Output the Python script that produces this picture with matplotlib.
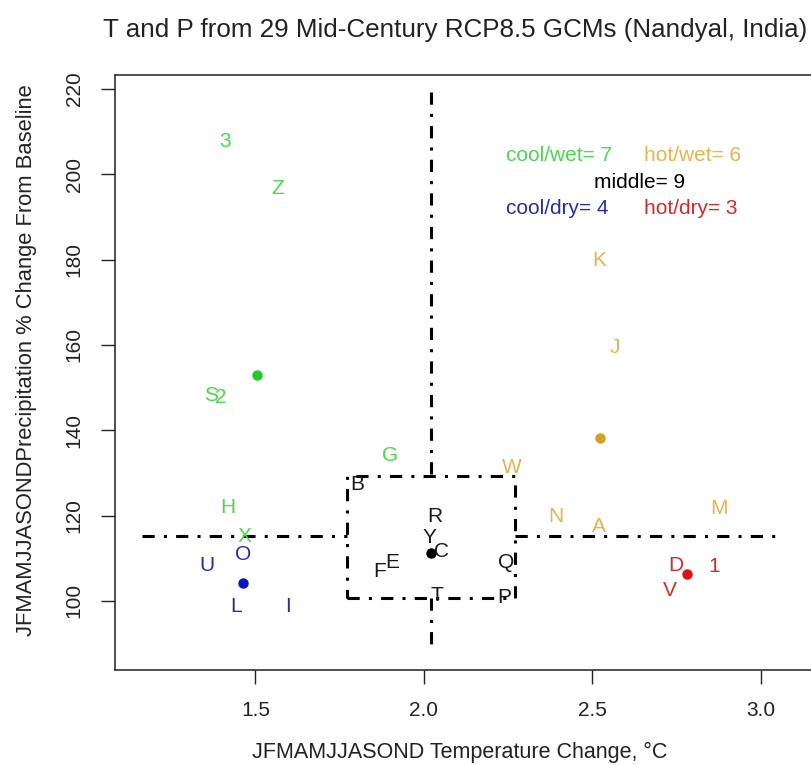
import numpy as np
import matplotlib
matplotlib.use("Agg")
import matplotlib.pyplot as plt

plt.rcParams['font.family'] = ['Liberation Sans', 'DejaVu Sans']

# model labels, temperature change (C) and precipitation change (%)
cool_wet_lab = ['3', 'Z', 'S', '2', 'G', 'H', 'X']
cool_wet_t = [1.409, 1.566, 1.368, 1.397, 1.898, 1.418, 1.468]
cool_wet_p = [207.6, 196.8, 148.1, 147.6, 134.2, 122.0, 115.0]

cool_dry_lab = ['U', 'O', 'L', 'I']
cool_dry_t = [1.356, 1.462, 1.442, 1.596]
cool_dry_p = [108.4, 110.8, 98.8, 98.6]

middle_lab = ['B', 'R', 'Y', 'C', 'E', 'F', 'Q', 'T', 'P']
middle_t = [1.803, 2.031, 2.016, 2.052, 1.907, 1.868, 2.245, 2.037, 2.239]
middle_p = [127.4, 119.9, 114.8, 111.5, 109.1, 107.0, 109.1, 101.2, 100.9]

hot_wet_lab = ['K', 'J', 'W', 'N', 'A', 'M']
hot_wet_t = [2.520, 2.567, 2.262, 2.393, 2.520, 2.876]
hot_wet_p = [179.7, 159.3, 131.2, 119.9, 117.4, 121.6]

hot_dry_lab = ['D', '1', 'V']
hot_dry_t = [2.748, 2.860, 2.730]
hot_dry_p = [108.4, 108.0, 102.4]

# quadrant split and middle box
t_split = 2.022
p_split = 115.2
box_t = [1.773, 2.271]
box_p = [100.7, 129.3]

fig = plt.figure(figsize=(8.12, 7.65), dpi=100)
ax = fig.add_axes([115/812, 1-670/765, 1.02 - 115/812, (670-75)/765])

ls = (0, (4, 3, 1, 3))
lw = 2.2
ax.plot([t_split, t_split], [219.3, box_p[1]], color='black', lw=lw, ls=ls)
ax.plot([t_split, t_split], [box_p[0], 89.0], color='black', lw=lw, ls=ls)
ax.plot([1.163, box_t[0]], [p_split, p_split], color='black', lw=lw, ls=ls)
ax.plot([box_t[1], 3.063], [p_split, p_split], color='black', lw=lw, ls=ls)
ax.plot([box_t[0], box_t[1], box_t[1], box_t[0], box_t[0]],
        [box_p[0], box_p[0], box_p[1], box_p[1], box_p[0]],
        color='black', lw=lw, ls=ls)

fs = 15
groups = [
    (cool_wet_lab, cool_wet_t, cool_wet_p, '#4cd84c', '#22cc22'),
    (cool_dry_lab, cool_dry_t, cool_dry_p, '#2a2aa8', '#0a14c8'),
    (middle_lab, middle_t, middle_p, '#1a1a1a', '#000000'),
    (hot_wet_lab, hot_wet_t, hot_wet_p, '#e6b450', '#d4a020'),
    (hot_dry_lab, hot_dry_t, hot_dry_p, '#d42a2a', '#dd1111'),
]
for lab, t, p, tc, dc in groups:
    for s, x, y in zip(lab, t, p):
        ax.text(x, y, s, color=tc, fontsize=fs, ha='center', va='center')
    ax.plot(np.mean(t), np.mean(p), 'o', color=dc, ms=6.5)

# group counts
ax.text(2.245, 204.5, 'cool/wet= %d' % len(cool_wet_lab), color='#4cd84c', fontsize=fs, ha='left', va='center')
ax.text(2.653, 204.5, 'hot/wet= %d' % len(hot_wet_lab), color='#e6b450', fontsize=fs, ha='left', va='center')
ax.text(2.639, 198.2, 'middle= %d' % len(middle_lab), color='black', fontsize=fs, ha='center', va='center')
ax.text(2.245, 192.1, 'cool/dry= %d' % len(cool_dry_lab), color='#2a2aa8', fontsize=fs, ha='left', va='center')
ax.text(2.653, 192.1, 'hot/dry= %d' % len(hot_dry_lab), color='#d42a2a', fontsize=fs, ha='left', va='center')

ax.set_xlim(1.083, 3.2)
ax.set_ylim(83.8, 223.3)
ax.set_xticks([1.5, 2.0, 2.5, 3.0])
ax.set_xticklabels(['1.5', '2.0', '2.5', '3.0'])
ax.set_yticks([100, 120, 140, 160, 180, 200, 220])
ax.set_yticklabels(['100', '120', '140', '160', '180', '200', '220'], rotation=90, va='center')
ax.tick_params(length=10, width=1, labelsize=fs, colors='#222222', pad=12.5)
for sp in ax.spines.values():
    sp.set_linewidth(1.1)
    sp.set_color('#222222')

fig.text(455/812, 1-30/765, 'T and P from 29 Mid-Century RCP8.5 GCMs (Nandyal, India)',
         ha='center', va='center', fontsize=18.7, color='#222222')
fig.text(460/812, 1-752/765, 'JFMAMJJASOND Temperature Change, \u00b0C',
         ha='center', va='center', fontsize=15.5, color='#222222')
fig.text(27/812, 1-360/765, 'JFMAMJJASONDPrecipitation % Change From Baseline',
         ha='center', va='center', rotation=90, fontsize=15.8, color='#222222')

fig.savefig('out.png', dpi=100)
